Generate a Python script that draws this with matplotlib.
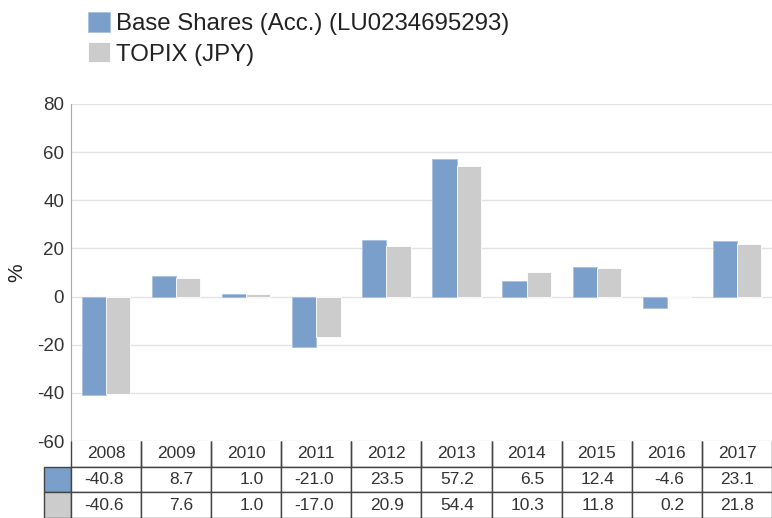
import numpy as np
import matplotlib.pyplot as plt

plt.rcParams["font.family"] = ["Liberation Sans", "DejaVu Sans"]

# data
years = ["2008", "2009", "2010", "2011", "2012", "2013", "2014", "2015", "2016", "2017"]
base_shares = [-40.8, 8.7, 1.0, -21.0, 23.5, 57.2, 6.5, 12.4, -4.6, 23.1]
topix = [-40.6, 7.6, 1.0, -17.0, 20.9, 54.4, 10.3, 11.8, 0.2, 21.8]
series_names = ["Base Shares (Acc.) (LU0234695293)", "TOPIX (JPY)"]
y_ticks = [-60, -40, -20, 0, 20, 40, 60, 80]

blue = "#7a9fcb"
grey = "#cccccc"

fig = plt.figure(figsize=(7.72, 5.18), dpi=100)
W, H = 772, 518
ax = fig.add_axes([71 / W, 1 - 441 / H, 701 / W, 337 / H])

x = np.arange(len(years))
bw = 0.345
b1 = ax.bar(x - bw / 2, base_shares, bw, color=blue, edgecolor="#a9c1e0",
            linewidth=0.6, label=series_names[0], zorder=3)
b2 = ax.bar(x + bw / 2, topix, bw, color=grey, edgecolor="white",
            linewidth=0.6, label=series_names[1], zorder=3)

ax.set_xlim(-0.5, len(years) - 0.5)
ax.set_ylim(-60, 80)
ax.set_yticks(y_ticks)
ax.set_yticklabels([str(t) for t in y_ticks], fontsize=13.5, color="#333333")
ax.tick_params(axis="y", length=0, pad=5)
ax.set_xticks([])
ax.grid(axis="y", color="#e3e3e3", linewidth=1, zorder=0)
for s in ["top", "right", "bottom"]:
    ax.spines[s].set_visible(False)
ax.spines["left"].set_color("#aaaaaa")
ax.yaxis.set_label_coords(-45 / 701, 0.455)
ax.set_ylabel("%", fontsize=15, color="#222222")

# legend
fig.legend(handles=[b1, b2], labels=series_names, loc="upper left",
           bbox_to_anchor=(88 / W, 1 - 12 / H), frameon=False, fontsize=17.3,
           handlelength=0.92, handleheight=0.92, handletextpad=0.25,
           labelspacing=0.28, borderaxespad=0, borderpad=0,
           labelcolor="#222222")

# table below the plot
cell_text = [[""] + years,
             [""] + [f"{v:.1f}" for v in base_shares],
             [""] + [f"{v:.1f}" for v in topix]]
lab_w = 27 / 701
col_w = 1.0 / len(years)
row_h = 25.7 / 337
tbl = ax.table(cellText=cell_text, colWidths=[lab_w] + [col_w] * len(years),
               bbox=[-lab_w, -3 * row_h, 1 + lab_w, 3 * row_h], zorder=5)
tbl.auto_set_font_size(False)
tbl.set_fontsize(12.5)
for (r, c), cell in tbl.get_celld().items():
    cell.set_edgecolor("#444444")
    cell.set_linewidth(1.0)
    cell.get_text().set_color("#333333")
    if c == 0:
        if r == 0:
            cell.visible_edges = ""
        elif r == 1:
            cell.set_facecolor(blue)
        else:
            cell.set_facecolor(grey)
    elif r == 0:
        cell.visible_edges = "BLR"
        cell.get_text().set_ha("center")
    else:
        cell._loc = "right"
        cell.PAD = 0.25
        cell.get_text().set_ha("right")

fig.savefig("out.png", dpi=100)
